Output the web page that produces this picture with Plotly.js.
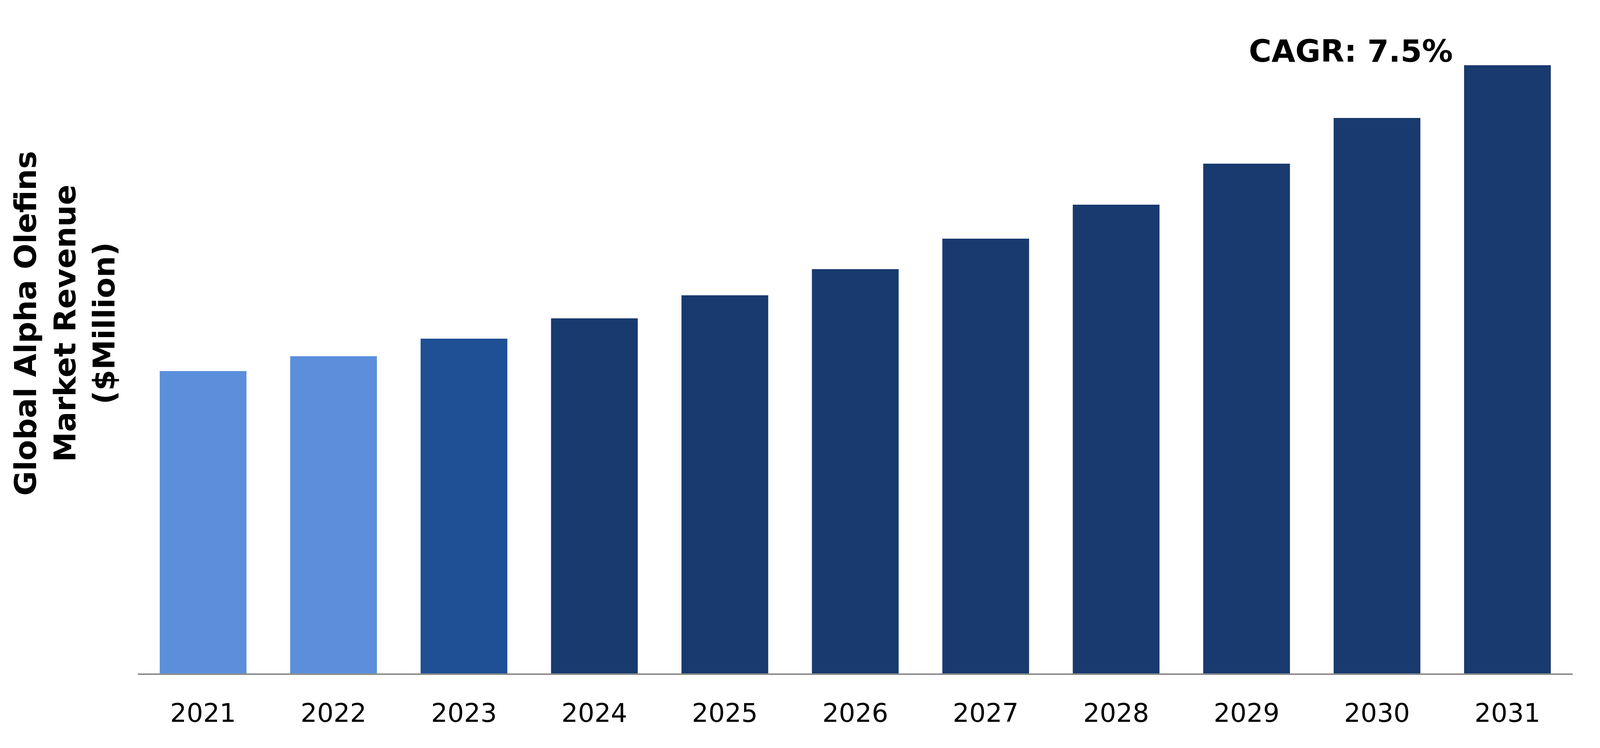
<!DOCTYPE html>
<html>
<head>
<meta charset="utf-8">
<script src="https://cdn.plot.ly/plotly-3.0.1.min.js"></script>
<style>
  html, body { margin: 0; padding: 0; background: #ffffff; overflow: hidden; }
  #chart { width: 100vw; height: 100vh; }
</style>
</head>
<body>
<div id="chart"></div>
<script>
// years on the x axis
const years = ["2021", "2022", "2023", "2024", "2025", "2026", "2027", "2028", "2029", "2030", "2031"];
// revenue (no scale shown, relative units)
const revenue = [774, 812, 857, 909, 968, 1035, 1113, 1200, 1305, 1422, 1557];
// bar colours: history, base year, forecast
const barColors = ["#5b8fdb", "#5b8fdb", "#1f4f94", "#183a6e", "#183a6e", "#183a6e",
                   "#183a6e", "#183a6e", "#183a6e", "#183a6e", "#183a6e"];
const yTitle = "Global Alpha Olefins<br>Market Revenue<br>($Million)";
const cagrText = "CAGR: 7.5%";

// the design is laid out for 5191x1915, scaled to whatever the window really is
const W = window.innerWidth, H = window.innerHeight;
const sx = W / 5191, sy = H / 1915;
const fs = Math.min(sx, sy);
const fontFamily = "DejaVu Sans, Verdana, sans-serif";

const trace = {
    x: years,
    y: revenue,
    type: "bar",
    marker: { color: barColors, line: { width: 0 } },
    hoverinfo: "x+y"
};

const layout = {
    width: W,
    height: H,
    margin: { l: 448 * sx, r: 89 * sx, t: 0, b: 191 * sy, pad: 0 },
    paper_bgcolor: "#ffffff",
    plot_bgcolor: "#ffffff",
    bargap: 0.335,
    showlegend: false,
    font: { family: fontFamily, color: "#000000" },
    xaxis: {
        type: "category",
        range: [-0.5, 10.5],
        showline: true,
        linecolor: "#8c8c8c",
        linewidth: 4 * sy,
        showgrid: false,
        zeroline: false,
        ticks: "",
        ticklabelstandoff: 40 * sy,
        tickfont: { family: fontFamily, size: 84 * fs, color: "#000000" }
    },
    yaxis: {
        range: [0, 1724],
        showline: false,
        showgrid: false,
        zeroline: false,
        showticklabels: false,
        ticks: ""
    },
    annotations: [
        {
            text: yTitle,
            xref: "paper", yref: "paper",
            x: (210 - 448) / 4654, y: (1724 - 828) / 1724,
            xanchor: "center", yanchor: "middle",
            textangle: -90,
            showarrow: false,
            align: "center",
            font: { family: fontFamily, size: 98 * fs, color: "#000000", weight: "bold" }
        },
        {
            text: "<b>" + cagrText + "</b>",
            xref: "x", yref: "y",
            x: 8.8, y: 1593,
            xanchor: "center", yanchor: "middle",
            showarrow: false,
            font: { family: fontFamily, size: 100 * fs, color: "#000000" }
        }
    ]
};

Plotly.newPlot("chart", [trace], layout, { displayModeBar: false, staticPlot: true });
</script>
</body>
</html>
